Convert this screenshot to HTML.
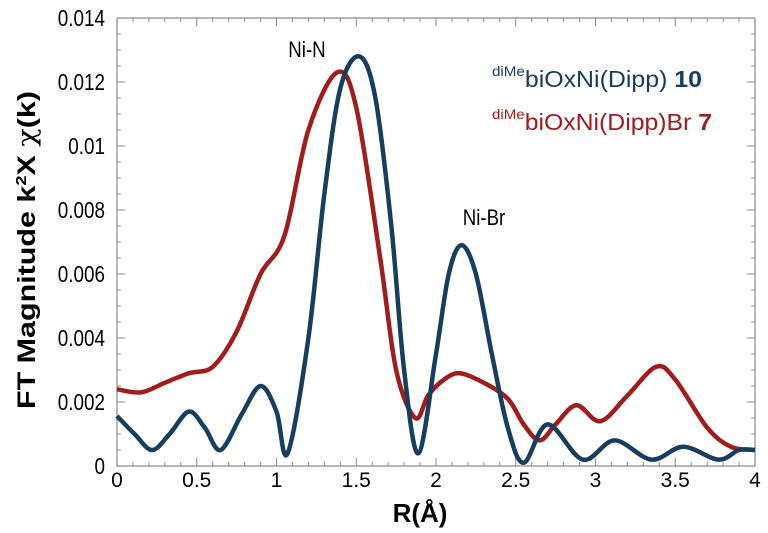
<!DOCTYPE html>
<html><head><meta charset="utf-8"><style>
body{margin:0;background:#fff;}
svg text{font-family:"Liberation Sans",sans-serif;}
</style></head><body>
<svg id="chart" width="768" height="528" xmlns="http://www.w3.org/2000/svg">
<g id="axes"></g>
<g id="series"></g>
<text class="cond" x="307" y="57" font-size="22" text-anchor="middle">Ni-N</text>
<text class="cond" x="484" y="225" font-size="22" text-anchor="middle">Ni-Br</text>
<text id="leg1" x="492" y="87" font-size="23" fill="#163f5f" textLength="210" lengthAdjust="spacingAndGlyphs"><tspan font-size="14" dy="-11">diMe</tspan><tspan dy="11">biOxNi(Dipp) </tspan><tspan font-weight="bold">10</tspan></text>
<text id="leg2" x="492" y="130" font-size="23" fill="#a31c1c" textLength="220" lengthAdjust="spacingAndGlyphs"><tspan font-size="14" dy="-11">diMe</tspan><tspan dy="11">biOxNi(Dipp)Br </tspan><tspan font-weight="bold">7</tspan></text>
<text x="420" y="522" font-size="26" font-weight="bold" text-anchor="middle">R(Å)</text>
<text transform="translate(35,250) rotate(-90)" font-size="25" font-weight="bold" text-anchor="middle" textLength="318" lengthAdjust="spacingAndGlyphs">FT Magnitude k<tspan font-size="15" dy="-9">2</tspan><tspan dy="9">X </tspan><tspan font-weight="normal" font-family="DejaVu Serif, serif">χ</tspan>(k)</text>
</svg>
<script>
const xTicks=[0,0.5,1,1.5,2,2.5,3,3.5,4];
const xTickLabels=["0","0.5","1","1.5","2","2.5","3","3.5","4"];
const yTicks=[0,0.002,0.004,0.006,0.008,0.01,0.012,0.014];
const yTickLabels=["0","0.002","0.004","0.006","0.008","0.01","0.012","0.014"];
const blueR=[0,0.11,0.22,0.33,0.45,0.55,0.65,0.78,0.9,1.0,1.07,1.2,1.3,1.4,1.52,1.62,1.72,1.8,1.89,2.0,2.08,2.16,2.25,2.35,2.45,2.55,2.7,2.92,3.12,3.35,3.55,3.77,3.9,4];
const blueV=[0.00156,0.0010,0.0005,0.0010,0.0017,0.0012,0.0005,0.0016,0.0025,0.0017,0.0004,0.0040,0.0085,0.0118,0.0128,0.0115,0.0075,0.0030,0.0004,0.0035,0.0060,0.0069,0.0060,0.0035,0.0012,0.0001,0.0013,0.0002,0.0008,0.0002,0.0006,0.0002,0.0005,0.0005];
const redR=[0,0.15,0.3,0.45,0.6,0.75,0.9,1.05,1.2,1.38,1.5,1.65,1.75,1.87,1.95,2.05,2.15,2.3,2.45,2.55,2.65,2.75,2.88,3.03,3.2,3.38,3.5,3.7,3.85,4];
const redV=[0.0024,0.0023,0.0026,0.0029,0.0031,0.0042,0.0060,0.0072,0.0105,0.0123,0.0112,0.0065,0.0030,0.0015,0.0022,0.0027,0.0029,0.0026,0.0021,0.0013,0.0008,0.0013,0.0019,0.0014,0.0022,0.0031,0.0027,0.0012,0.0006,0.0005];
const L=117,R=755,T=18,B=466;
const xs=v=>L+(R-L)*v/4, ys=v=>B-(B-T)*v/0.014;
const NS="http://www.w3.org/2000/svg";
const ax=document.getElementById('axes');
function mk(tag,attrs,parent){const e=document.createElementNS(NS,tag);for(const k in attrs)e.setAttribute(k,attrs[k]);parent.appendChild(e);return e;}
function condense(t,f){const w=t.getComputedTextLength();t.setAttribute('textLength',w*f);t.setAttribute('lengthAdjust','spacingAndGlyphs');}
const fr=mk('rect',{x:L,y:T,width:R-L,height:B-T,fill:'none',stroke:'#888','stroke-width':1.2},ax);


for(let i=0;i<=40;i++){const x=xs(i/10),len=i%5===0?8:4;
mk('line',{x1:x,x2:x,y1:B,y2:B-len,stroke:'#888'},ax);mk('line',{x1:x,x2:x,y1:T,y2:T+len,stroke:'#888'},ax);}
for(let i=0;i<=28;i++){const y=ys(i*0.0005),len=i%4===0?8:4;
mk('line',{x1:L,x2:L+len,y1:y,y2:y,stroke:'#888'},ax);mk('line',{x1:R,x2:R-len,y1:y,y2:y,stroke:'#888'},ax);}
xTicks.forEach((v,i)=>{const t=mk('text',{x:xs(v),y:B+21,'font-size':21,'text-anchor':'middle'},ax);t.textContent=xTickLabels[i];

});
yTicks.forEach((v,i)=>{const t=mk('text',{x:L-12,y:ys(v)+8,'font-size':23,'text-anchor':'end'},ax);t.textContent=yTickLabels[i];


condense(t,0.82);});
document.querySelectorAll('.cond').forEach(t=>condense(t,0.85));
function path(xa,ya){const p=xa.map((x,i)=>[xs(x),ys(ya[i])]);let d='M'+p[0][0]+','+p[0][1];
for(let i=0;i<p.length-1;i++){const p0=p[Math.max(i-1,0)],p1=p[i],p2=p[i+1],p3=p[Math.min(i+2,p.length-1)];
const c1=[p1[0]+(p2[0]-p0[0])/6,p1[1]+(p2[1]-p0[1])/6],c2=[p2[0]-(p3[0]-p1[0])/6,p2[1]-(p3[1]-p1[1])/6];
d+=` C${c1[0]},${c1[1]} ${c2[0]},${c2[1]} ${p2[0]},${p2[1]}`;}return d;}
const sg=document.getElementById('series');
const rl=mk('path',{d:path(redR,redV),fill:'none',stroke:'#a31c1c','stroke-width':4.5,'stroke-linejoin':'round'},sg);


const bl=mk('path',{d:path(blueR,blueV),fill:'none',stroke:'#163f5f','stroke-width':4.5,'stroke-linejoin':'round'},sg);


</script>
</body></html>
